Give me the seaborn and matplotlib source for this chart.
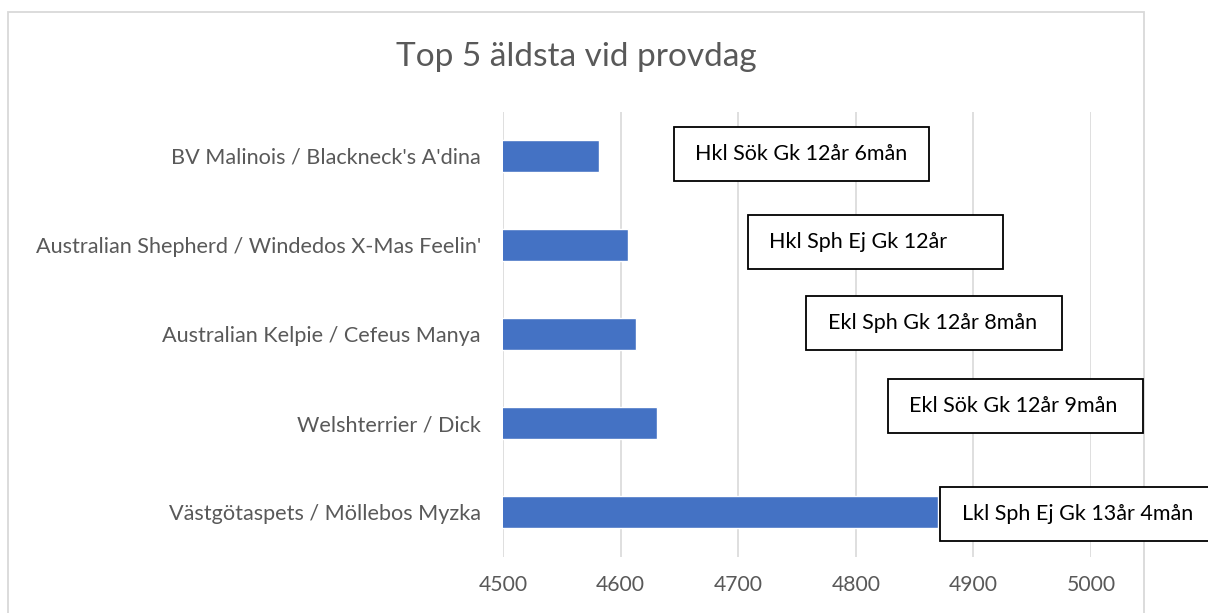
import matplotlib
matplotlib.use("Agg")
import matplotlib.pyplot as plt
from matplotlib.patches import Rectangle
import seaborn as sns
import pandas as pd

# Oldest dogs on their test day (age in days)
dogs = [
    "BV Malinois / Blackneck's A'dina",
    "Australian Shepherd / Windedos X-Mas Feelin'",
    "Australian Kelpie / Cefeus Manya",
    "Welshterrier / Dick",
    "Västgötaspets / Möllebos Myzka",
]
age_days = [4582, 4606, 4613, 4631, 4870]
notes = [
    "Hkl Sök Gk 12år 6mån",
    "Hkl Sph Ej Gk 12år",
    "Ekl Sph Gk 12år 8mån",
    "Ekl Sök Gk 12år 9mån",
    "Lkl Sph Ej Gk 13år 4mån",
]
title = "Top 5 äldsta vid provdag"
x_ticks = [4500, 4600, 4700, 4800, 4900, 5000]

# Callout placement (left edge in axis units, vertical shift in category units, box width)
note_left = [4645, 4708, 4758, 4827, 4872]
note_shift = [-0.02, -0.03, -0.12, -0.19, 0.02]
note_width = [217, 217, 217, 217, 240]

sns.set_theme(style="white")
plt.rcParams["font.family"] = ["Lato", "DejaVu Sans"]

W, H = 1208, 613
fig = plt.figure(figsize=(W / 100, H / 100), dpi=100)

# Chart frame, drawn beneath everything else
fig.add_artist(Rectangle((8 / W, -0.05), (1144 - 8) / W, 1.05 - 12 / H,
                         transform=fig.transFigure, facecolor="none",
                         edgecolor="#D9D9D9", linewidth=1.3, zorder=-5))

ax = fig.add_axes([503 / W, 1 - 556.5 / H, (1091 - 503) / W, 445 / H])
ax.set_facecolor("none")

df = pd.DataFrame({"dog": dogs, "age": age_days})
sns.barplot(data=df, y="dog", x="age", color="#4472C4", saturation=1,
            width=0.35, orient="h", ax=ax, zorder=3)

ax.set_xlim(4500, 5000)
ax.set_ylim(len(dogs) - 0.5, -0.5)
ax.set_xticks(x_ticks)
ax.set_xticklabels([str(t) for t in x_ticks])
ax.set_xlabel("")
ax.set_ylabel("")
ax.grid(axis="x", color="#D9D9D9", linewidth=1.2, zorder=0)
ax.grid(axis="y", visible=False)
for s in ax.spines.values():
    s.set_visible(False)
ax.tick_params(axis="x", length=0, pad=13, labelsize=15.2, labelcolor="#595959")
ax.tick_params(axis="y", length=0, pad=16, labelsize=15.6, labelcolor="#595959")

# Text callouts beside the bars
box_h = 0.61
for i, (txt, left, dy, w) in enumerate(zip(notes, note_left, note_shift, note_width)):
    cy = i + dy
    ax.add_patch(Rectangle((left, cy - box_h / 2), w, box_h, facecolor="white",
                           edgecolor="black", linewidth=1.3, zorder=5, clip_on=False))
    ax.text(left + 18, cy, txt, ha="left", va="center", fontsize=15.5,
            color="black", zorder=6, clip_on=False)

fig.text(576 / W, 1 - 57 / H, title, ha="center", va="center",
         fontsize=24, color="#595959")

fig.savefig("out.png", dpi=100)
